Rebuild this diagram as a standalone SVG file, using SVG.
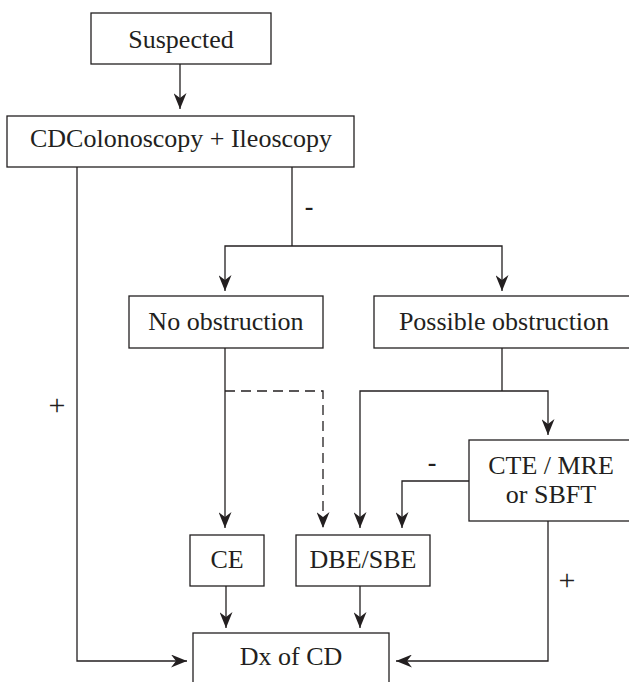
<svg xmlns="http://www.w3.org/2000/svg" width="629" height="682" viewBox="0 0 629 682">
<defs>
<style>
.box{fill:#fff;stroke:#231f20;stroke-width:1.3}
.t{font-family:'Liberation Serif','Times New Roman',serif;font-size:26px;fill:#231f20;text-anchor:middle}
.m{font-weight:bold}
.p{font-size:30px}
.c{fill:none;stroke:#231f20;stroke-width:1.3}
.a{marker-end:url(#ah)}
.d{stroke-dasharray:10 6}
</style>
<marker id="ah" markerUnits="userSpaceOnUse" viewBox="0 0 16 13" refX="16" refY="6.5" markerWidth="16" markerHeight="13" orient="auto">
<path d="M0,0 L16,6.5 L0,13 L5,6.5 z" fill="#231f20"/>
</marker>
</defs>
<rect width="629" height="682" fill="#fff"/>
<g id="connectors">
<line class="c a" x1="180" y1="64" x2="180" y2="109"/>
<polyline class="c" points="292,167 292,246"/>
<polyline class="c a" points="292,246 225,246 225,291"/>
<polyline class="c a" points="292,246 502,246 502,291"/>
<polyline class="c a" points="77,167 77,661 187,661"/>
<line class="c a" x1="225" y1="348" x2="225" y2="528"/>
<polyline class="c a d" points="225,391 323,391 323,528"/>
<line class="c" x1="502" y1="348" x2="502" y2="391"/>
<polyline class="c a" points="502,391 360,391 360,528"/>
<polyline class="c a" points="502,391 548,391 548,435"/>
<polyline class="c a" points="469,481 402,481 402,528"/>
<line class="c a" x1="226" y1="586" x2="226" y2="628"/>
<line class="c a" x1="360" y1="586" x2="360" y2="628"/>
<polyline class="c a" points="548,521 548,661 396,661"/>
<text class="t m" x="309" y="215">-</text>
<text class="t p" x="57" y="415">+</text>
<text class="t m" x="432" y="471">-</text>
<text class="t p" x="567" y="590">+</text>
</g>
<g id="suspected"><rect class="box" x="91" y="13" width="180" height="51"/><text class="t" x="181" y="48">Suspected</text></g>
<g id="colonoscopy"><rect class="box" x="7" y="116" width="347" height="51"/><text class="t" x="181" y="147">CDColonoscopy + Ileoscopy</text></g>
<g id="no-obstruction"><rect class="box" x="129" y="296" width="194" height="52"/><text class="t" x="226" y="330">No obstruction</text></g>
<g id="possible-obstruction"><rect class="box" x="374" y="296" width="258" height="52"/><text class="t" x="504" y="330">Possible obstruction</text></g>
<g id="cte-mre"><rect class="box" x="469" y="440" width="162" height="81"/><text class="t" x="551" y="474">CTE / MRE</text><text class="t" x="551" y="503">or SBFT</text></g>
<g id="ce"><rect class="box" x="190" y="535" width="74" height="51"/><text class="t" x="227" y="568">CE</text></g>
<g id="dbe-sbe"><rect class="box" x="296" y="535" width="134" height="51"/><text class="t" x="363" y="568">DBE/SBE</text></g>
<g id="dx"><rect class="box" x="193" y="633" width="196" height="60"/><text class="t" x="291" y="665">Dx of CD</text></g>
</svg>
